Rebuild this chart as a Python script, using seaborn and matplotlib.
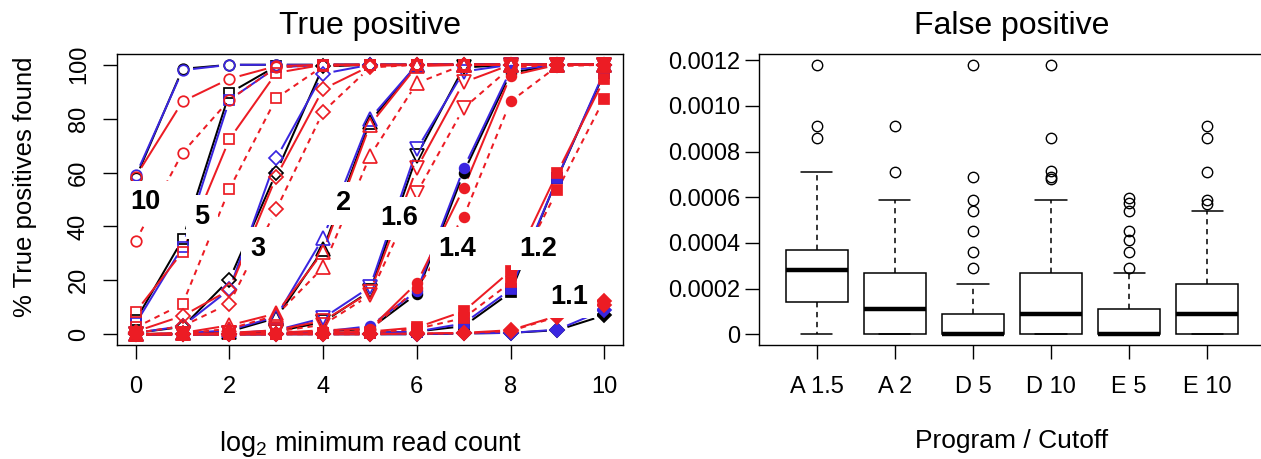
import numpy as np
import pandas as pd
import matplotlib
matplotlib.use("Agg")
import matplotlib.pyplot as plt
import seaborn as sns

# ---------------- True positive panel ----------------
log2_min_count = [0, 1, 2, 3, 4, 5, 6, 7, 8, 9, 10]
fold_changes = ["10", "5", "3", "2", "1.6", "1.4", "1.2", "1.1"]

# % true positives found: one row per fold change, one column per log2 cutoff
black_pct = [
    [58, 98.5, 100, 100, 100, 100, 100, 100, 100, 100, 100],
    [5.2, 35.2, 89.5, 99.5, 100, 100, 100, 100, 100, 100, 100],
    [0.5, 2.7, 20.3, 60, 99.4, 100, 100, 100, 100, 100, 100],
    [0, 0.3, 1, 6, 31.5, 78.9, 100, 100, 100, 100, 100],
    [0, 0, 0.3, 1, 4.5, 16, 66.2, 99, 100, 100, 100],
    [0, 0, 0, 0.3, 1, 2, 15, 60, 97, 100, 100],
    [0, 0, 0, 0, 0.3, 0.5, 1, 3, 15.5, 58, 97],
    [0, 0, 0, 0, 0, 0, 0, 0.3, 0.5, 1.5, 7],
]
blue_pct = [
    [59, 98, 100, 100, 100, 100, 100, 100, 100, 100, 100],
    [4, 32.5, 87, 99, 100, 100, 100, 100, 100, 100, 100],
    [0.5, 3, 16.6, 65.3, 96.7, 100, 100, 100, 100, 100, 100],
    [0, 0.3, 1.5, 6.5, 35.8, 80, 100, 100, 100, 100, 100],
    [0, 0, 0.3, 1.5, 6, 17.5, 68.6, 97.5, 100, 100, 100],
    [0, 0, 0, 0.3, 1, 3, 16, 61.6, 98, 100, 100],
    [0, 0, 0, 0, 0.3, 0.5, 1, 4, 16.6, 58, 97.5],
    [0, 0, 0, 0, 0, 0, 0, 0.3, 0.5, 1.7, 9],
]
red_pct = [
    [58.5, 86.4, 94.8, 99.5, 100, 100, 100, 100, 100, 100, 100],
    [8.3, 30.6, 72.4, 97, 100, 100, 100, 100, 100, 100, 100],
    [1, 6.8, 16.4, 58.5, 91, 99.5, 100, 100, 100, 100, 100],
    [0, 0.5, 3.3, 7.7, 30.6, 77.7, 99.5, 100, 100, 100, 100],
    [0, 0, 0.5, 1.5, 5, 15.5, 61.6, 93.5, 100, 100, 100],
    [0, 0, 0, 0.5, 1.5, 2, 19, 54.2, 96, 100, 100],
    [0, 0, 0, 0, 0.5, 1, 2.5, 8.5, 23.5, 60, 94.7],
    [0, 0, 0, 0, 0, 0, 0.3, 0.5, 1.5, 6.8, 12.5],
]
red_dash_pct = [
    [34.6, 67.4, 87, 99, 100, 100, 100, 100, 100, 100, 100],
    [2.5, 11.2, 53.9, 87.6, 99.5, 100, 100, 100, 100, 100, 100],
    [0.5, 3, 11.4, 46.3, 82.6, 99, 100, 100, 100, 100, 100],
    [0, 0.3, 2, 7, 24.8, 66.2, 93.2, 100, 100, 100, 100],
    [0, 0, 0.3, 1, 3.5, 14.5, 52.5, 83.9, 99, 100, 100],
    [0, 0, 0, 0.3, 1, 1.5, 17, 43.6, 86.4, 99.5, 100],
    [0, 0, 0, 0, 0.3, 0.5, 2, 6, 19.2, 53.5, 87.4],
    [0, 0, 0, 0, 0, 0, 0.2, 0.3, 1.2, 6.5, 11],
]

tp_xticks = [0, 2, 4, 6, 8, 10]
tp_yticks = [0, 20, 40, 60, 80, 100]

# ---------------- False positive panel ----------------
fp_groups = ["A 1.5", "A 2", "D 5", "D 10", "E 5", "E 10"]
fp_a_15 = [0, 0.00002, 0.00004, 0.00006, 0.00008, 0.0001, 0.00011, 0.00013,
           0.000139, 0.00016, 0.00018, 0.0002, 0.00022, 0.00024, 0.00025, 0.00027,
           0.00028, 0.00029, 0.0003, 0.00031, 0.00032, 0.00033, 0.00035, 0.00036,
           0.00037, 0.0004, 0.00045, 0.0005, 0.00058, 0.00071, 0.00086, 0.00091, 0.00118]
fp_a_2 = [0, 0, 0, 0, 0, 0, 0, 0,
          0, 0.00002, 0.00003, 0.00005, 0.00006, 0.00008, 0.00009, 0.0001,
          0.00011, 0.00013, 0.00015, 0.00017, 0.00019, 0.00021, 0.00023, 0.00025,
          0.00027, 0.0003, 0.00034, 0.00038, 0.00043, 0.0005, 0.00059, 0.00071, 0.00091]
fp_d_5 = [0, 0, 0, 0, 0, 0, 0, 0,
          0, 0, 0, 0, 0, 0, 0, 0,
          0, 0.00001, 0.00002, 0.00003, 0.00004, 0.00005, 0.00006, 0.00007,
          0.000089, 0.00022, 0.00029, 0.00036, 0.00045, 0.00054, 0.00059, 0.00069, 0.00118]
fp_d_10 = [0, 0, 0, 0, 0, 0, 0, 0,
           0, 0.00001, 0.00002, 0.00003, 0.00004, 0.00005, 0.00006, 0.00007,
           0.000089, 0.0001, 0.00012, 0.00014, 0.00016, 0.00018, 0.0002, 0.00024,
           0.00027, 0.00035, 0.00042, 0.00059, 0.00068, 0.00069, 0.000714, 0.00086, 0.00118]
fp_e_5 = [0, 0, 0, 0, 0, 0, 0, 0,
          0, 0, 0, 0, 0, 0, 0, 0,
          0, 0.00001, 0.00002, 0.00004, 0.00005, 0.00007, 0.00008, 0.0001,
          0.000109, 0.00027, 0.00029, 0.000359, 0.000411, 0.00045, 0.000539, 0.000575, 0.000596]
fp_e_10 = [0, 0, 0, 0, 0, 0, 0, 0,
           0, 0.00001, 0.00002, 0.00003, 0.00005, 0.00006, 0.00007, 0.00008,
           0.000089, 0.0001, 0.00012, 0.00014, 0.00016, 0.00018, 0.0002, 0.00021,
           0.00022, 0.0003, 0.00042, 0.00054, 0.00057, 0.00059, 0.00071, 0.00086, 0.00091]
fp_samples = [fp_a_15, fp_a_2, fp_d_5, fp_d_10, fp_e_5, fp_e_10]

fp_yticks = [0, 0.0002, 0.0004, 0.0006, 0.0008, 0.0010, 0.0012]
fp_ytick_labels = ["0", "0.0002", "0.0004", "0.0006", "0.0008", "0.0010", "0.0012"]

# ---------------- styling ----------------
BLUE = "#3a26e0"
RED = "#ec1c24"
sns.set_theme(style="white", rc={
    "axes.edgecolor": "black", "axes.linewidth": 1.0,
    "xtick.color": "black", "ytick.color": "black",
    "text.color": "black", "axes.labelcolor": "black",
})
plt.rcParams["font.family"] = ["Liberation Sans", "DejaVu Sans"]
plt.rcParams["mathtext.fontset"] = "custom"
plt.rcParams["mathtext.rm"] = "Liberation Sans"
plt.rcParams["mathtext.it"] = "Liberation Sans:italic"
plt.rcParams["mathtext.bf"] = "Liberation Sans:bold"

TICK_FS = 17
TITLE_FS = 23

W, H = 1261, 459
fig = plt.figure(figsize=(W / 100, H / 100), dpi=100)
ax_tp = fig.add_axes([117 / W, 114 / H, 506 / W, 291 / H])
ax_fp = fig.add_axes([759 / W, 114 / H, 506 / W, 291 / H])

# ---- left: sensitivity curves drawn point-gap-point ----
ax_tp.set_xlim(-0.4, 10.4)
ax_tp.set_ylim(-4, 104)

# (marker, filled, size) for each fold change
group_markers = [("o", False, 7.6), ("s", False, 7.2), ("D", False, 7.0),
                 ("^", False, 9.6), ("v", False, 9.6),
                 ("o", True, 7.0), ("s", True, 7.4), ("D", True, 7.2)]
series = [(black_pct, "black", "-"), (blue_pct, BLUE, "-"),
          (red_pct, RED, "-"), (red_dash_pct, RED, (0, (2.8, 2.4)))]
GAP_PX = 10.5


def gapped_path(ax, xs, ys, gap):
    """Segments between consecutive points, trimmed near each point."""
    pts = ax.transData.transform(np.column_stack([xs, ys]).astype(float))
    out = []
    for p, q in zip(pts[:-1], pts[1:]):
        d = q - p
        length = np.hypot(d[0], d[1])
        if length <= 2 * gap:
            continue
        u = d / length
        out += [p + u * gap, q - u * gap, [np.nan, np.nan]]
    if not out:
        return None
    arr = ax.transData.inverted().transform(np.array(out))
    return arr[:, 0], arr[:, 1]


for values, color, ls in series:
    for gi, (marker, filled, ms) in enumerate(group_markers):
        ys = values[gi]
        seg = gapped_path(ax_tp, log2_min_count, ys, GAP_PX)
        if seg is not None:
            ax_tp.plot(seg[0], seg[1], color=color, lw=1.45, ls=ls,
                       solid_capstyle="butt", dash_capstyle="butt", zorder=2)
        ax_tp.plot(log2_min_count, ys, ls="none", marker=marker, ms=ms,
                   mfc=color if filled else "none", mec=color, mew=1.25, zorder=3)

fold_label_pos = [(0.21, 49), (1.41, 43.5), (2.6, 31.8), (4.43, 48.6),
                  (5.63, 43), (6.86, 31.6), (8.6, 31.8), (9.25, 13.9)]
for name, (lx, ly) in zip(fold_changes, fold_label_pos):
    ax_tp.text(lx, ly, name, ha="center", va="center", fontsize=19.5,
               fontweight="bold", zorder=10, clip_on=False,
               bbox=dict(boxstyle="square,pad=0.32", fc="white", ec="none"))

ax_tp.set_xticks(tp_xticks)
ax_tp.set_yticks(tp_yticks)
ax_tp.set_xticklabels([str(v) for v in tp_xticks])
ax_tp.set_yticklabels([str(v) for v in tp_yticks])
ax_tp.tick_params(axis="both", direction="out", length=10, width=1.0,
                  labelsize=TICK_FS, bottom=True, left=True, top=False, right=False)
ax_tp.tick_params(axis="x", pad=12)
ax_tp.tick_params(axis="y", pad=9.5, labelrotation=90)
for t in ax_tp.get_yticklabels():
    t.set_va("center")
ax_tp.set_title("True positive", fontsize=TITLE_FS, pad=14.5)
ax_tp.set_xlabel("log$_2$ minimum read count", fontsize=19.5)
ax_tp.xaxis.set_label_coords(0.5, -0.29)
ax_tp.set_ylabel("% True positives found", fontsize=18.5)
ax_tp.yaxis.set_label_coords(-0.158, 0.545)

# ---- right: false positive rate boxplots ----
fp_df = pd.DataFrame({
    "cutoff": np.repeat(fp_groups, [len(v) for v in fp_samples]),
    "rate": np.concatenate(fp_samples),
})
sns.boxplot(data=fp_df, x="cutoff", y="rate", order=fp_groups, ax=ax_fp,
            width=0.8, color="white", linecolor="black", linewidth=1.1,
            whis=1.5, fliersize=7.5, saturation=1,
            whiskerprops=dict(linestyle=(0, (3.5, 3.0))),
            medianprops=dict(linewidth=3.2),
            flierprops=dict(marker="o", markerfacecolor="none",
                            markeredgecolor="black", markeredgewidth=1.0))
for ln in ax_fp.lines:
    if ln.get_marker() == "o":
        ln.set_markerfacecolor("none")
        ln.set_markeredgecolor("black")

ax_fp.set_xlim(-0.74, 5.74)
ax_fp.set_ylim(-0.0000472, 0.0012272)
ax_fp.set_yticks(fp_yticks)
ax_fp.set_yticklabels(fp_ytick_labels)
ax_fp.tick_params(axis="both", direction="out", length=10, width=1.0,
                  labelsize=TICK_FS, bottom=True, left=True, top=False, right=False)
ax_fp.tick_params(axis="x", pad=12)
ax_fp.tick_params(axis="y", pad=3.5)
ax_fp.set_ylabel("")
ax_fp.set_title("False positive", fontsize=TITLE_FS, pad=14.5)
ax_fp.set_xlabel("Program / Cutoff", fontsize=19)
ax_fp.xaxis.set_label_coords(0.5, -0.29)

for ax in (ax_tp, ax_fp):
    for sp in ax.spines.values():
        sp.set_visible(True)
        sp.set_color("black")
        sp.set_linewidth(1.0)

fig.savefig("out.png", dpi=100)
